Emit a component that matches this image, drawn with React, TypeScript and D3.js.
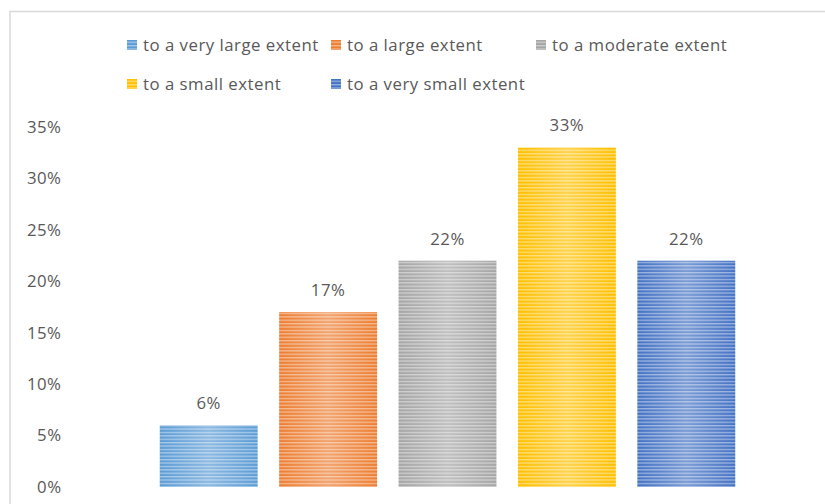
import React from "react";
import * as d3 from "d3";

const categories = [
  "to a very large extent",
  "to a large extent",
  "to a moderate extent",
  "to a small extent",
  "to a very small extent",
];
const values = [6, 17, 22, 33, 22];
const colors = ["#5B9BD5", "#ED7D31", "#A5A5A5", "#FFC000", "#4472C4"];
const yTicks = [0, 5, 10, 15, 20, 25, 30, 35];

const W = 825;
const H = 504;
const FONT = "'Open Sans', sans-serif";
const TEXT = "#595959";
const FS = 16.8;
const LS = 0.5;

export default function App() {
  const x = d3.scaleBand<string>().domain(categories).range([149, 746]).paddingInner(0.18).paddingOuter(0.09);
  const y = d3.scaleLinear().domain([0, 35]).range([487, 127]);

  const legendPos = [
    { x: 127, y: 45 },
    { x: 331, y: 45 },
    { x: 536, y: 45 },
    { x: 127, y: 84 },
    { x: 331, y: 84 },
  ];

  return (
    <div style={{ position: "absolute", left: 0, top: 0, width: W, height: H, background: "#fff" }}>
      <svg width={W} height={H} style={{ display: "block" }}>
        <defs>
          {colors.map((c, i) => (
            <pattern key={i} id={`stripe${i}`} width={8} height={3.4} patternUnits="userSpaceOnUse">
              <rect width={8} height={3.4} fill={c} />
              <rect y={0} width={8} height={1.3} fill="#fff" opacity={0.45} />
            </pattern>
          ))}
          <linearGradient id="shine" x1="0" x2="1" y1="0" y2="0">
            <stop offset="0" stopColor="#fff" stopOpacity={0} />
            <stop offset="0.5" stopColor="#fff" stopOpacity={0.3} />
            <stop offset="1" stopColor="#fff" stopOpacity={0} />
          </linearGradient>
        </defs>
        <rect x={0} y={0} width={W} height={H} fill="#fff" />
        <path d={`M10,${H} L10,11.5 L${W},11.5`} fill="none" stroke="#d9d9d9" strokeWidth={1.5} />

        {/* legend */}
        {categories.map((c, i) => (
          <g key={c} transform={`translate(${legendPos[i].x},${legendPos[i].y})`}>
            <rect x={0} y={-5} width={10} height={10} fill={`url(#stripe${i})`} />
            <text x={16} y={0} dy="0.35em" fontFamily={FONT} fontSize={FS} letterSpacing={LS} fill={TEXT}>
              {c}
            </text>
          </g>
        ))}

        {/* y axis labels */}
        {yTicks.map((t) => (
          <text key={t} x={61.5} y={y(t)} dy="0.35em" textAnchor="end" fontFamily={FONT} fontSize={FS} letterSpacing={LS} fill={TEXT}>
            {`${t}%`}
          </text>
        ))}

        {/* bars */}
        {categories.map((c, i) => {
          const bx = x(c)!;
          const by = y(values[i]);
          const bh = y(0) - by;
          return (
            <g key={c}>
              <rect x={bx} y={by} width={x.bandwidth()} height={bh} fill={`url(#stripe${i})`} />
              <rect x={bx} y={by} width={x.bandwidth()} height={bh} fill="url(#shine)" />
              <text
                x={bx + x.bandwidth() / 2}
                y={by - 22}
                dy="0.35em"
                textAnchor="middle"
                fontFamily={FONT}
                fontSize={FS}
                letterSpacing={LS}
                fill={TEXT}
              >
                {`${values[i]}%`}
              </text>
            </g>
          );
        })}
      </svg>
    </div>
  );
}
